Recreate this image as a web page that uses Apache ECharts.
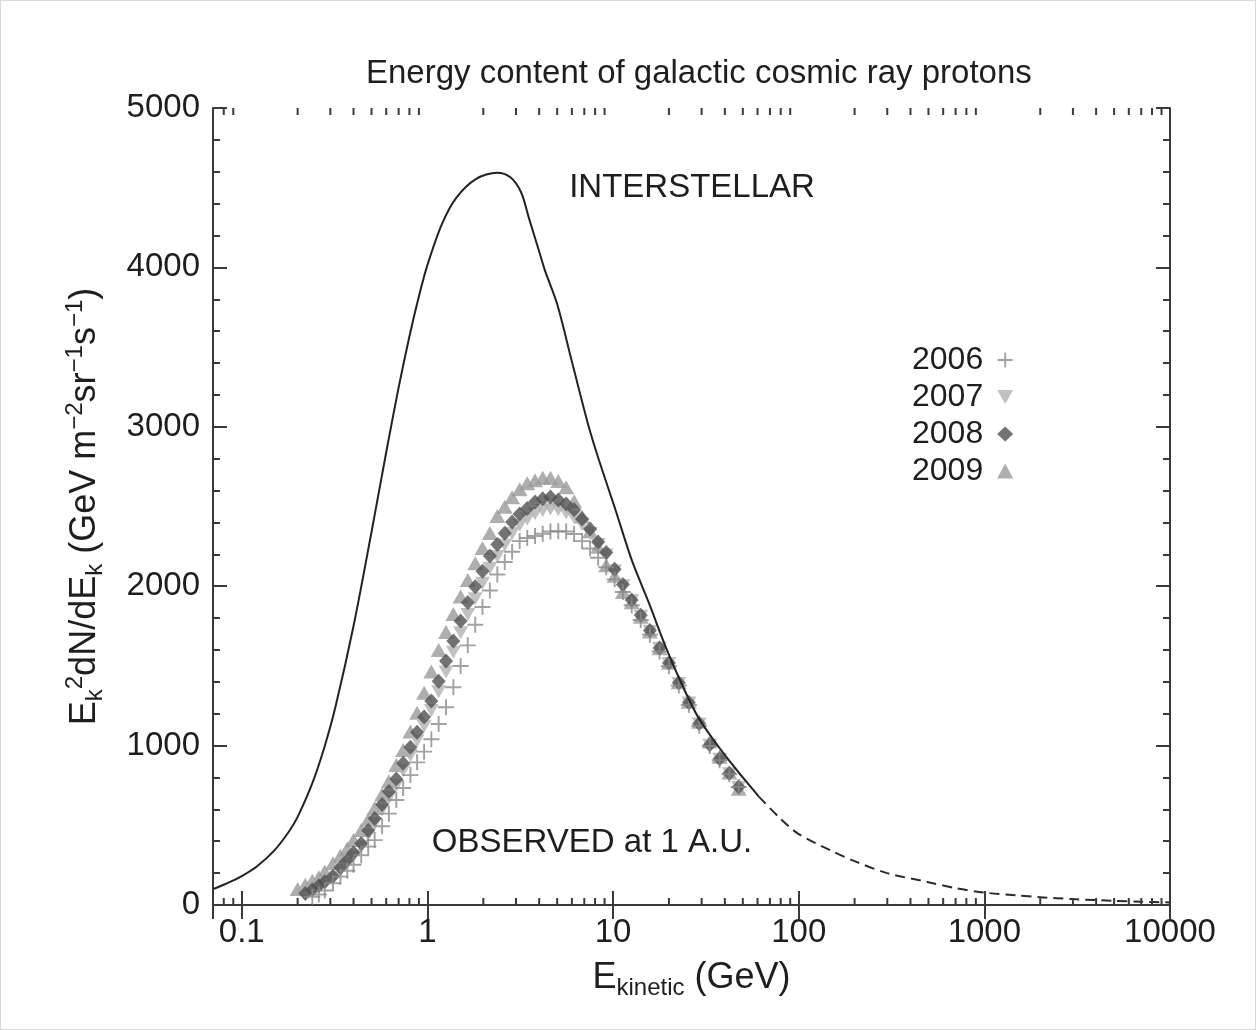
<!DOCTYPE html>
<html>
<head>
<meta charset="utf-8">
<title>Energy content of galactic cosmic ray protons</title>
<script src="https://cdn.jsdelivr.net/npm/echarts@6/dist/echarts.min.js"></script>
<style>
  html, body { margin: 0; padding: 0; background: #ffffff; }
  #wrap { position: relative; width: 1256px; height: 1030px; }
  #chart { width: 1256px; height: 1030px; }
  #frame { position: absolute; left: 0; top: 0; width: 1254px; height: 1028px;
           border: 1px solid #d8d8d8; pointer-events: none; }
</style>
</head>
<body>
<div id="wrap"><div id="chart"></div><div id="frame"></div></div>
<script>
// ---- Interstellar spectrum (solid part), E in GeV, E^2 dN/dE ----
const lisE = [0.07, 0.08, 0.09, 0.1, 0.12, 0.15, 0.18, 0.2, 0.24, 0.28,
              0.32, 0.4, 0.5, 0.6, 0.7, 0.8, 0.9, 1.0, 1.2, 1.43,
              1.83, 2.37, 2.8, 3.2, 3.5, 4.0, 4.3, 5.0, 6.0, 7.4,
              8.4, 10.3, 12.6, 15.6, 19.2, 24, 29, 38, 50, 61];
const lisV = [100, 127, 154, 181, 240, 343, 463, 553, 764, 998,
              1245, 1750, 2340, 2840, 3247, 3567, 3819, 4014, 4274, 4436,
              4555, 4594, 4565, 4470, 4320, 4100, 3980, 3770, 3410, 3000,
              2790, 2480, 2165, 1895, 1620, 1360, 1170, 975, 800, 680];

// ---- Interstellar spectrum, high-energy extension (dashed) ----
const tailE = [61, 80, 100, 150, 200, 300, 500, 700, 1000, 1500, 2000, 3000, 5000, 7000, 10000];
const tailV = [680, 540, 445, 340, 275, 200, 143, 106, 78, 60, 49, 37, 26, 20, 16];

// ---- Observed at 1 A.U. : shared energy bins (GeV) ----
const obsE = [0.20, 0.22, 0.24, 0.26, 0.28, 0.31, 0.34, 0.37, 0.40, 0.44,
              0.48, 0.52, 0.57, 0.62, 0.68, 0.74, 0.81, 0.88, 0.96, 1.05,
              1.15, 1.26, 1.38, 1.51, 1.65, 1.81, 1.98, 2.17, 2.38, 2.61,
              2.86, 3.14, 3.45, 3.80, 4.18, 4.60, 5.07, 5.59, 6.17, 6.81,
              7.52, 8.31, 9.19, 10.2, 11.3, 12.6, 14.1, 15.8, 17.8, 20.0,
              22.6, 25.6, 29.1, 33.2, 37.5, 42.3, 47.5];

const obs2006 = [null, null, 52, 66, 91, 136, 178, 215, 253, 312,
                 366, 407, 494, 573, 659, 734, 815, 895, 962, 1040,
                 1136, 1241, 1366, 1499, 1629, 1758, 1870, 1973, 2073, 2152,
                 2216, 2283, 2302, 2315, 2329, 2343, 2345, 2343, 2328, 2283,
                 2236, 2178, 2119, 2043, 1964, 1880, 1788, 1696, 1591, 1498,
                 1377, 1255, 1125, 997, 908, 820, 740];
const obs2007 = [null, 68, 88, 112, 136, 170, 218, 262, 308, 364,
                 440, 512, 596, 672, 748, 842, 938, 1030, 1122, 1220,
                 1338, 1462, 1585, 1708, 1822, 1922, 2018, 2112, 2186, 2258,
                 2330, 2382, 2420, 2455, 2475, 2485, 2480, 2460, 2430, 2385,
                 2330, 2262, 2195, 2095, 2003, 1908, 1812, 1718, 1610, 1515,
                 1390, 1268, 1135, 1002, 915, 824, 738];
const obs2008 = [null, 72, 95, 121, 146, 181, 233, 280, 328, 386,
                 468, 543, 631, 712, 790, 889, 990, 1083, 1180, 1280,
                 1403, 1530, 1656, 1782, 1897, 1997, 2094, 2190, 2261, 2332,
                 2403, 2453, 2487, 2529, 2548, 2560, 2540, 2515, 2480, 2421,
                 2359, 2278, 2212, 2106, 2011, 1913, 1818, 1722, 1613, 1518,
                 1394, 1271, 1138, 1005, 918, 827, 740];
const obs2009 = [101, 127, 152, 174, 210, 262, 309, 354, 407, 471,
                 537, 609, 693, 776, 879, 972, 1088, 1206, 1331, 1465,
                 1600, 1713, 1826, 1936, 2039, 2144, 2240, 2333, 2440, 2498,
                 2558, 2608, 2646, 2665, 2680, 2680, 2660, 2620, 2533, 2438,
                 2344, 2248, 2132, 2065, 1964, 1900, 1808, 1716, 1611, 1519,
                 1397, 1275, 1150, 1025, 930, 831, 730];

// ---- Axis tick labels ----
const xTickValues = [0.1, 1, 10, 100, 1000, 10000];
const xTickLabels = ['0.1', '1', '10', '100', '1000', '10000'];
const yTickValues = [0, 1000, 2000, 3000, 4000, 5000];
const yTickLabels = ['0', '1000', '2000', '3000', '4000', '5000'];

const years = ['2006', '2007', '2008', '2009'];

// ---- styling ----
const FONT = '"Liberation Sans", Arial, Helvetica, sans-serif';
const INK = '#1e1e1e';
const AXIS = '#3a3a3a';
const X_MIN = 0.07, X_MAX = 10000, Y_MIN = 0, Y_MAX = 5000;

function pairs(xs, ys) {
  return xs.map((x, i) => [x, ys[i]]).filter(d => d[1] != null);
}

// minor ticks of the log axis: 2..9 within each decade
const xMinorTicks = [];
for (let d = -2; d <= 3; d++) {
  for (let m = 2; m <= 9; m++) {
    const v = m * Math.pow(10, d);
    if (v > X_MIN * 1.0001 && v < X_MAX) xMinorTicks.push(v);
  }
}

// axis titles: rich text with sub- and superscripts
const rich = {
  m:   { fontSize: 36, lineHeight: 44, fontFamily: FONT, color: INK },
  sub: { fontSize: 24, height: 24, verticalAlign: 'bottom', fontFamily: FONT, color: INK },
  sup: { fontSize: 24, height: 25, verticalAlign: 'top', fontFamily: FONT, color: INK }
};
const yName = '{m|E}{sub|k}{sup|2}{m|dN/dE}{sub|k}{m| (GeV m}{sup|\u22122}{m|sr}{sup|\u22121}{m|s}{sup|\u22121}{m|)}';
const xName = '{m|E}{sub|kinetic}{m| (GeV)}';

const tickLine = { color: AXIS, width: 2 };

const chart = echarts.init(document.getElementById('chart'), null, { renderer: 'canvas' });

const option = {
  animation: false,
  backgroundColor: '#ffffff',
  title: {
    text: 'Energy content of galactic cosmic ray protons',
    left: 366, top: 57, padding: 0,
    textStyle: { fontSize: 33, fontWeight: 'normal', fontFamily: FONT, color: INK }
  },
  grid: { left: 213, right: 86, top: 108, bottom: 125, outerBoundsMode: 'none' },
  legend: {
    data: years,
    orient: 'vertical',
    left: 907, top: 339,
    align: 'right',
    itemWidth: 16, itemHeight: 15, itemGap: 5,
    selectedMode: false,
    textStyle: { fontSize: 32, lineHeight: 32, fontFamily: FONT, color: INK, padding: [0, 9, 0, 0] }
  },
  xAxis: [
    {
      type: 'log', logBase: 10, min: X_MIN, max: X_MAX, position: 'bottom',
      axisLine: { show: true, lineStyle: tickLine },
      axisTick: { show: true, inside: true, length: 14, lineStyle: tickLine },
      splitLine: { show: false },
      axisLabel: {
        show: true, showMinLabel: false, margin: 11,
        fontSize: 33, fontFamily: FONT, color: INK,
        formatter: v => {
          const i = xTickValues.findIndex(t => Math.abs(Math.log10(t) - Math.log10(v)) < 1e-6);
          return i >= 0 ? xTickLabels[i] : '';
        }
      },
      name: xName, nameLocation: 'middle', nameGap: 51,
      nameTextStyle: { rich: rich, fontSize: 36, fontFamily: FONT, color: INK }
    },
    {
      type: 'log', logBase: 10, min: X_MIN, max: X_MAX, position: 'top',
      axisLine: { show: true, lineStyle: tickLine },
      axisTick: { show: true, inside: true, length: 14, lineStyle: tickLine },
      axisLabel: { show: false }, splitLine: { show: false }
    }
  ],
  yAxis: [
    {
      type: 'value', min: Y_MIN, max: Y_MAX, interval: 1000, position: 'left',
      axisLine: { show: true, lineStyle: tickLine },
      axisTick: { show: true, inside: true, length: 14, lineStyle: tickLine },
      minorTick: { show: true, splitNumber: 5, length: 7, lineStyle: tickLine },
      splitLine: { show: false }, minorSplitLine: { show: false },
      axisLabel: {
        margin: 13, fontSize: 33, fontFamily: FONT, color: INK,
        formatter: v => {
          const i = yTickValues.indexOf(v);
          return i >= 0 ? yTickLabels[i] : '';
        }
      },
      name: yName, nameLocation: 'middle', nameGap: 106,
      nameTextStyle: { rich: rich, fontSize: 36, fontFamily: FONT, color: INK }
    },
    {
      type: 'value', min: Y_MIN, max: Y_MAX, interval: 1000, position: 'right',
      axisLine: { show: true, lineStyle: tickLine },
      axisTick: { show: true, inside: true, length: 14, lineStyle: tickLine },
      minorTick: { show: true, splitNumber: 5, length: 7, lineStyle: tickLine },
      splitLine: { show: false }, axisLabel: { show: false }
    }
  ],
  graphic: [
    {
      type: 'text', x: 692, y: 188, silent: true,
      style: { text: 'INTERSTELLAR', fontSize: 33, fontFamily: FONT, fill: INK,
               align: 'center', verticalAlign: 'middle' }
    },
    {
      type: 'text', x: 592, y: 843, silent: true,
      style: { text: 'OBSERVED at 1 A.U.', fontSize: 33, fontFamily: FONT, fill: INK,
               align: 'center', verticalAlign: 'middle' }
    }
  ],
  series: [
    {
      name: '2009', type: 'scatter', data: pairs(obsE, obs2009),
      symbol: 'triangle', symbolSize: [16, 14],
      itemStyle: { color: '#9a9a9a' }, z: 2
    },
    {
      name: '2007', type: 'scatter', data: pairs(obsE, obs2007),
      symbol: 'path://M0,0L10,0L5,8.66Z', symbolSize: [15, 13],
      itemStyle: { color: '#b2b2b2' }, z: 2
    },
    {
      name: '2008', type: 'scatter', data: pairs(obsE, obs2008),
      symbol: 'diamond', symbolSize: [14, 15],
      itemStyle: { color: '#505050' }, z: 2
    },
    {
      name: '2006', type: 'scatter', data: pairs(obsE, obs2006),
      symbol: 'path://M4.4,0H5.6V4.4H10V5.6H5.6V10H4.4V5.6H0V4.4H4.4Z', symbolSize: 16,
      itemStyle: { color: '#8a8a8a' }, z: 2
    },
    {
      name: 'Interstellar', type: 'line', data: pairs(lisE, lisV),
      showSymbol: false, symbol: 'none', smooth: 0.3, silent: true,
      lineStyle: { color: '#222222', width: 2 }, z: 4
    },
    {
      name: 'Interstellar (high energy)', type: 'line', data: pairs(tailE, tailV),
      showSymbol: false, symbol: 'none', smooth: 0.3, silent: true,
      lineStyle: { color: '#2a2a2a', width: 2, type: [10, 6] }, z: 4
    },
    {
      name: 'minor x ticks', type: 'custom', data: xMinorTicks.map(v => [v, Y_MIN]),
      silent: true, clip: false, z: 6,
      renderItem: (params, api) => {
        const v = api.value(0);
        const b = api.coord([v, Y_MIN]);
        const t = api.coord([v, Y_MAX]);
        const st = { stroke: AXIS, lineWidth: 2 };
        return {
          type: 'group',
          children: [
            { type: 'line', shape: { x1: b[0], y1: b[1], x2: b[0], y2: b[1] - 7 }, style: st },
            { type: 'line', shape: { x1: t[0], y1: t[1], x2: t[0], y2: t[1] + 7 }, style: st }
          ]
        };
      }
    }
  ]
};

chart.setOption(option);
</script>
</body>
</html>
